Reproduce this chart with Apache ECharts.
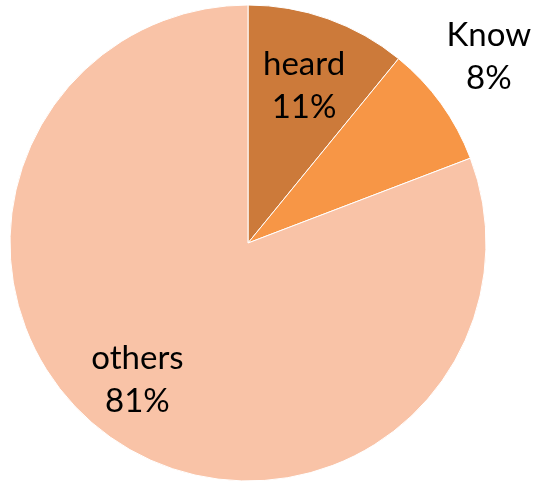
<!DOCTYPE html>
<html><head><meta charset="utf-8">
<script src="https://cdn.jsdelivr.net/npm/echarts@6/dist/echarts.min.js"></script>
<style>html,body{margin:0;padding:0;background:#fff}#c{width:533px;height:482px}</style>
</head><body><div id="c"></div>
<script>
const categories = ['heard', 'Know', 'others'];
const values = [10.9, 8.3, 80.8];
const colors = ['#CC7A3A', '#F79646', '#F9C3A7'];
// radius (px) at which each label sits, measured from the pie centre
const labelRadius = [164, 294, 176];
// padding used to nudge each label block sideways
const labelPadding = [[0, 0, 0, 0], [0, 0, 0, 0], [0, 18, 0, 0]];
// height of an empty spacer line under each label (nudges it upward)
const spacer = [0, 12, 11];

const chart = echarts.init(document.getElementById('c'), null, {renderer: 'canvas'});
const center = [248, 243];
const font = {fontFamily: 'Lato', fontSize: 33, lineHeight: 43, color: '#000'};

const series = [{
  type: 'pie', center: center, radius: [0, 238], startAngle: 90, clockwise: true,
  silent: true, label: {show: false}, labelLine: {show: false},
  itemStyle: {borderColor: '#fff', borderWidth: 1},
  data: categories.map((n, i) => ({name: n, value: values[i], itemStyle: {color: colors[i]}}))
}];
categories.forEach((n, k) => {
  series.push({
    type: 'pie', center: center, radius: [labelRadius[k] - 20, labelRadius[k] + 20],
    startAngle: 90, clockwise: true, silent: true, percentPrecision: 0,
    itemStyle: {color: 'rgba(0,0,0,0)'}, labelLine: {show: false},
    label: {show: false},
    data: categories.map((m, i) => ({
      name: m, value: values[i],
      label: i === k ? Object.assign({
        show: true, position: 'inside',
        formatter: spacer[k] ? '{b}\n{d}%\n{s|}' : '{b}\n{d}%',
        padding: labelPadding[k],
        rich: {s: {lineHeight: spacer[k] * 2, fontSize: 1}}
      }, font) : {show: false}
    }))
  });
});
chart.setOption({animation: false, series: series});
</script></body></html>
